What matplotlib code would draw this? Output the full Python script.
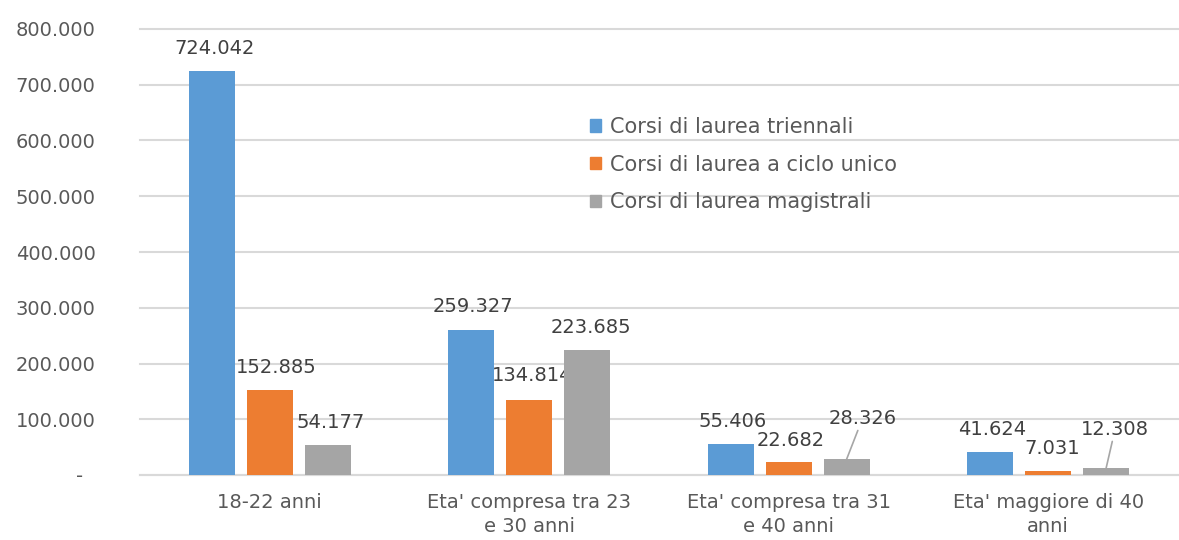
import numpy as np
import matplotlib.pyplot as plt
from matplotlib.patches import Patch

# data
categories = ["18-22 anni",
              "Eta' compresa tra 23\ne 30 anni",
              "Eta' compresa tra 31\ne 40 anni",
              "Eta' maggiore di 40\nanni"]
series_names = ["Corsi di laurea triennali",
                "Corsi di laurea a ciclo unico",
                "Corsi di laurea magistrali"]
triennali = [724042, 259327, 55406, 41624]
ciclo_unico = [152885, 134814, 22682, 7031]
magistrali = [54177, 223685, 28326, 12308]
yticks = [0, 100000, 200000, 300000, 400000, 500000, 600000, 700000, 800000]

colors = ["#5B9BD5", "#ED7D31", "#A5A5A5"]
text_col = "#595959"
grid_col = "#D9D9D9"

# label offsets in pixels (dx, dy) from the top centre of each bar
offsets = [
    [(3, 23), (2, 24), (2, 23), (2, 22)],
    [(6, 22), (3, 24), (2, 22), (4, 23)],
    [(3, 22), (4, 23), (16, 41), (9, 39)],
]
leader = [[False] * 4, [False] * 4, [False, False, True, True]]

def fmt(v):
    return f"{v:,}".replace(",", ".")

fig = plt.figure(figsize=(11.79, 5.4), dpi=100)
ax = fig.add_axes([140 / 1179, 1 - 475 / 540, 1038 / 1179, 446 / 540])

x = np.arange(len(categories))
step = 0.223
width = 0.177
all_vals = [triennali, ciclo_unico, magistrali]
for i, vals in enumerate(all_vals):
    pos = x + (i - 1) * step
    bars = ax.bar(pos, vals, width, color=colors[i], zorder=3, label=series_names[i])
    for j, b in enumerate(bars):
        dx, dy = offsets[i][j]
        props = None
        if leader[i][j]:
            props = dict(arrowstyle="-", color="#A6A6A6", lw=1.2, shrinkA=0, shrinkB=0)
        ax.annotate(fmt(vals[j]), (b.get_x() + b.get_width() / 2, b.get_height()),
                    xytext=(dx, dy), textcoords="offset pixels",
                    ha="center", va="center", fontsize=14, color="#404040",
                    arrowprops=props)

ax.set_xlim(-0.5, 3.5)
ax.set_ylim(0, 800000)
ax.set_yticks(yticks)
ax.set_yticklabels(["-  "] + [fmt(v) for v in yticks[1:]])
ax.set_xticks(x)
ax.set_xticklabels(categories, linespacing=1.35)
ax.grid(axis="y", color=grid_col, lw=1.5, zorder=0)
for gl in ax.yaxis.get_gridlines():
    gl.set_clip_on(False)
ax.tick_params(axis="both", length=0, labelsize=14, labelcolor=text_col)
ax.tick_params(axis="y", pad=32)
ax.tick_params(axis="x", pad=13)
for s in ["top", "right", "left"]:
    ax.spines[s].set_visible(False)
ax.spines["bottom"].set_color(grid_col)
ax.spines["bottom"].set_linewidth(1.5)

handles = [Patch(color=c) for c in colors]
ax.legend(handles, series_names, loc="upper left", bbox_to_anchor=(0.4335, 0.803),
          frameon=False, fontsize=15, labelcolor=text_col, handlelength=0.55,
          handleheight=0.55, handletextpad=0.4, labelspacing=0.85,
          borderpad=0, borderaxespad=0)

fig.savefig("out.png", dpi=100)
